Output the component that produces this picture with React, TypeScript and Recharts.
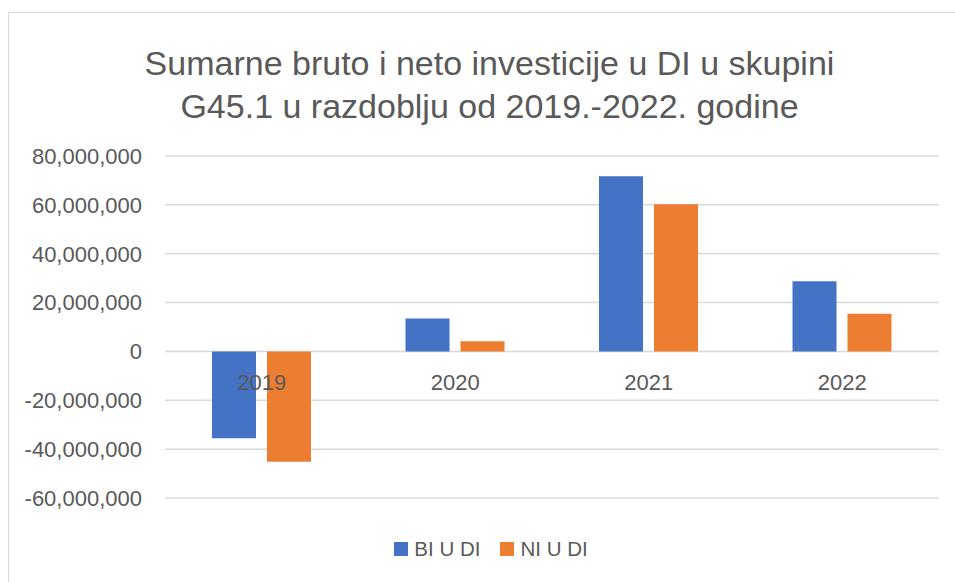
import { Bar, BarChart, CartesianGrid, Legend, XAxis, YAxis } from "recharts";

const years = ["2019", "2020", "2021", "2022"];
const biUDi = [-35500000, 13500000, 71700000, 28700000];
const niUDi = [-45200000, 4200000, 60200000, 15400000];
const yTicks = [-60000000, -40000000, -20000000, 0, 20000000, 40000000, 60000000, 80000000];

const data = years.map((year, i) => ({ year, bi: biUDi[i], ni: niUDi[i] }));

const FONT = "'Liberation Sans', Arial, sans-serif";
const TEXT = "#595959";
const W = 947;
const H = 570;
const M_TOP = 144;
const PLOT_H = 341.7;
const Y_MIN = yTicks[0];
const Y_MAX = yTicks[yTicks.length - 1];
// category labels sit just below the zero line, like Excel's "next to axis"
const ZERO_Y = M_TOP + (PLOT_H * Y_MAX) / (Y_MAX - Y_MIN);

function YearTick(props: any) {
  return (
    <text
      x={props.x}
      y={ZERO_Y + 39}
      textAnchor="middle"
      fill={TEXT}
      fontSize={22}
      fontFamily={FONT}
    >
      {props.payload.value}
    </text>
  );
}

function LegendContent(props: any) {
  const items = props.payload ?? [];
  return (
    <div
      style={{
        height: 30,
        display: "flex",
        justifyContent: "center",
        alignItems: "center",
        gap: 20,
        fontFamily: FONT,
        fontSize: 20.5,
        color: TEXT,
        paddingLeft: 36,
      }}
    >
      {items.map((it: any) => (
        <span key={it.value} style={{ display: "flex", alignItems: "center", gap: 6 }}>
          <span style={{ width: 14, height: 14, background: it.color, display: "inline-block" }} />
          {it.value}
        </span>
      ))}
    </div>
  );
}

export default function App() {
  return (
    <div
      style={{
        position: "absolute",
        left: 8,
        top: 12,
        width: W,
        height: H,
        borderTop: "1.5px solid #d9d9d9",
        borderLeft: "1.5px solid #d9d9d9",
        boxSizing: "border-box",
        background: "#fff",
      }}
    >
      <div
        style={{
          position: "absolute",
          top: 29,
          left: 0,
          width: W,
          paddingLeft: 14,
          boxSizing: "border-box",
          textAlign: "center",
          fontFamily: FONT,
          fontSize: 34,
          lineHeight: "43px",
          color: TEXT,
        }}
      >
        Sumarne bruto i neto investicije u DI u skupini
        <br />
        G45.1 u razdoblju od 2019.-2022. godine
      </div>
      <div style={{ position: "absolute", left: -1.5, top: -1.5 }}>
        <BarChart
          width={W}
          height={H}
          data={data}
          margin={{ top: M_TOP, right: 16, left: 0, bottom: 53 }}
          barSize={44}
          barGap={11}
        >
          <CartesianGrid vertical={false} stroke="#d9d9d9" strokeWidth={1.5} />
          <XAxis
            dataKey="year"
            axisLine={false}
            tickLine={false}
            height={1}
            tick={<YearTick />}
            interval={0}
          />
          <YAxis
            width={157}
            domain={[Y_MIN, Y_MAX]}
            ticks={yTicks}
            interval={0}
            axisLine={false}
            tickLine={false}
            tickMargin={17}
            tickFormatter={(v: number) => v.toLocaleString("en-US")}
            tick={{ fill: TEXT, fontSize: 22, fontFamily: FONT }}
          />
          <Legend
            verticalAlign="bottom"
            content={<LegendContent />}
            wrapperStyle={{ bottom: 18, height: 30 }}
          />
          <Bar dataKey="bi" name="BI U DI" fill="#4472C4" isAnimationActive={false} />
          <Bar dataKey="ni" name="NI U DI" fill="#ED7D31" isAnimationActive={false} />
        </BarChart>
      </div>
    </div>
  );
}
